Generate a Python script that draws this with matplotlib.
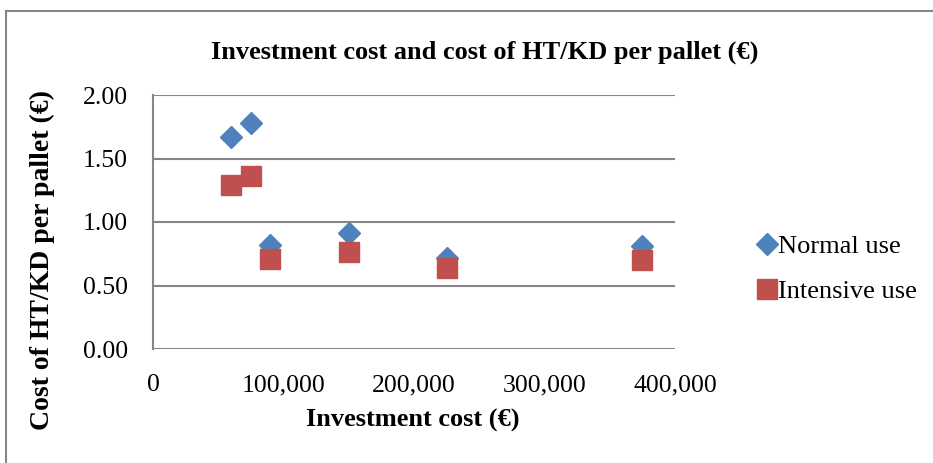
import matplotlib
matplotlib.use("Agg")
import matplotlib.pyplot as plt
from matplotlib.lines import Line2D
from matplotlib.ticker import FuncFormatter

plt.rcParams['font.family'] = ['Liberation Serif', 'DejaVu Serif']

investment = [60000, 75000, 90000, 150000, 225000, 375000]
normal_use = [1.67, 1.78, 0.82, 0.91, 0.72, 0.81]
intensive_use = [1.29, 1.36, 0.71, 0.76, 0.64, 0.70]
series_names = ["Normal use", "Intensive use"]
title = "Investment cost and cost of HT/KD per pallet (€)"
xlabel = "Investment cost (€)"
ylabel = "Cost of HT/KD per pallet (€)"

blue = "#4F81BD"
red = "#C0504D"
grid_c = "#868686"

W, H = 933, 463
fig = plt.figure(figsize=(W / 100, H / 100), dpi=100)

# outer chart border (cut at right/bottom)
fig.add_artist(Line2D([5.5 / W, 5.5 / W], [0, 1 - 11 / H], transform=fig.transFigure,
                      color=grid_c, lw=1.5))
fig.add_artist(Line2D([5.5 / W, 1], [1 - 11 / H, 1 - 11 / H], transform=fig.transFigure,
                      color=grid_c, lw=1.5))

ax = fig.add_axes([153 / W, 1 - 349 / H, (675 - 153) / W, (349 - 95) / H])
ax.plot(investment, normal_use, linestyle='none', marker='D', markersize=11.5,
        color=blue, label=series_names[0], zorder=3)
ax.plot(investment, intensive_use, linestyle='none', marker='s', markersize=14.5,
        color=red, label=series_names[1], zorder=3)

ax.set_xlim(0, 400000)
ax.set_ylim(0, 2.0)
ax.set_xticks([0, 100000, 200000, 300000, 400000])
ax.set_yticks([0, 0.5, 1.0, 1.5, 2.0])
ax.xaxis.set_major_formatter(FuncFormatter(lambda v, p: f"{v:,.0f}"))
ax.yaxis.set_major_formatter(FuncFormatter(lambda v, p: f"{v:.2f}"))
ax.tick_params(axis='both', length=0, labelsize=18.5)
ax.tick_params(axis='y', pad=18)
ax.tick_params(axis='x', pad=18)
ax.grid(axis='y', color=grid_c, lw=1.5)
ax.set_axisbelow(True)
for s in ['top', 'right', 'bottom']:
    ax.spines[s].set_visible(False)
ax.spines['left'].set_color(grid_c)
ax.spines['left'].set_linewidth(1.5)

fig.text(485 / W, 1 - 52 / H, title, ha='center', va='center',
         fontsize=19, fontweight='bold')
fig.text(413 / W, 1 - 420 / H, xlabel, ha='center', va='center',
         fontsize=19, fontweight='bold')
fig.text(42 / W, 1 - 260 / H, ylabel, ha='center', va='center',
         fontsize=20, fontweight='bold', rotation=90)

leg = fig.legend(loc='center left', bbox_to_anchor=(760 / W, 1 - 269 / H),
                 frameon=False, fontsize=19, handlelength=0.55, handletextpad=0.15,
                 labelspacing=0.8, borderaxespad=0, borderpad=0)

fig.savefig("out.png", dpi=100)
